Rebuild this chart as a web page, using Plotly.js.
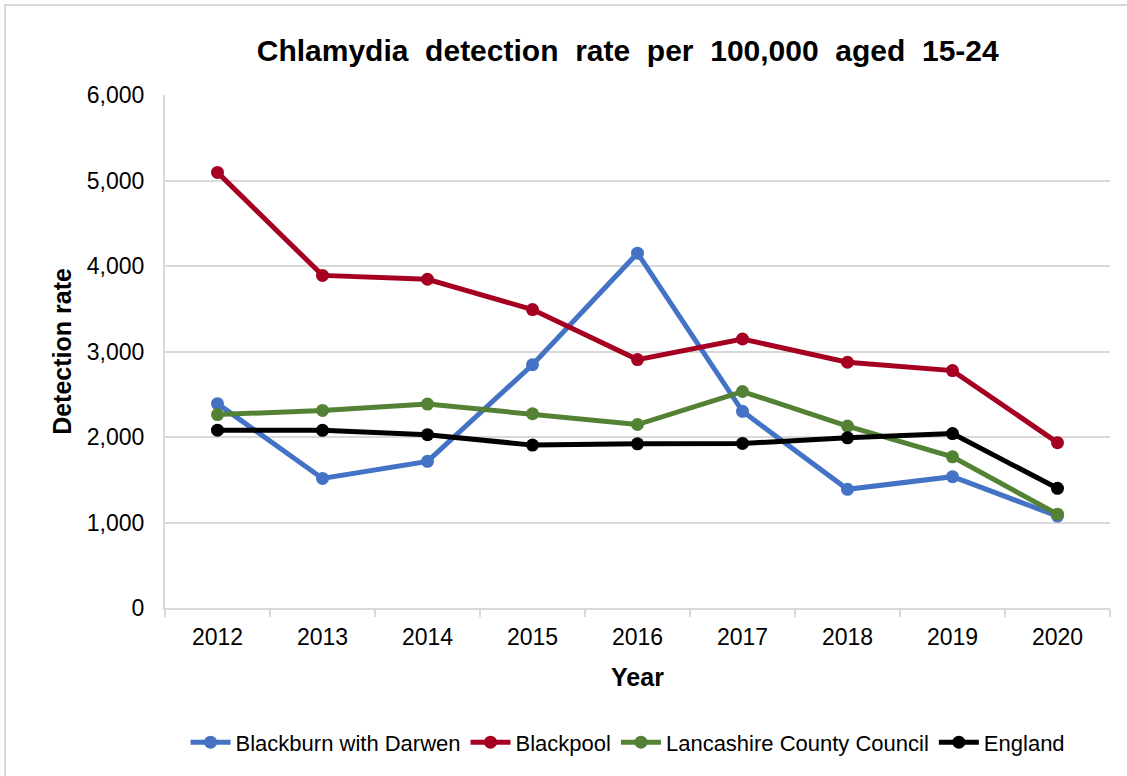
<!DOCTYPE html>
<html>
<head>
<meta charset="utf-8">
<script src="https://cdn.plot.ly/plotly-3.0.1.min.js"></script>
<style>
html,body{margin:0;padding:0;background:#fff;}
#wrap{position:relative;width:1127px;height:776px;overflow:hidden;}
#chart{width:1127px;height:776px;}
#frame{position:absolute;left:4px;top:4px;width:1140px;height:800px;border:2px solid #d9d9d9;pointer-events:none;}
</style>
</head>
<body>
<div id="wrap"><div id="chart"></div><div id="frame"></div></div>
<script>
const years = ['2012','2013','2014','2015','2016','2017','2018','2019','2020'];
const blackburn = [2390, 1515, 1715, 2845, 4150, 2300, 1388, 1536, 1075];
const blackpool = [5095, 3890, 3845, 3490, 2905, 3146, 2874, 2777, 1934];
const lancashire = [2262, 2311, 2385, 2272, 2146, 2532, 2128, 1768, 1097];
const england = [2080, 2078, 2027, 1905, 1920, 1925, 1990, 2040, 1400];

const names = ['Blackburn with Darwen','Blackpool','Lancashire County Council','England'];
const colors = ['#4472C4','#A50021','#548235','#000000'];
const series = [blackburn, blackpool, lancashire, england];

const traces = series.map((s,i)=>({
  x: years, y: s, name: names[i], type:'scatter', mode:'lines+markers',
  line:{color:colors[i], width:5},
  marker:{color:colors[i], size:13}
}));

const font = 'Liberation Sans, Arial, sans-serif';
const layout = {
  width:1127, height:776,
  margin:{l:165, r:17, t:95, b:166},
  paper_bgcolor:'#fff', plot_bgcolor:'#fff',
  font:{family:font, color:'#000', size:23},
  title:{text:'<b>Chlamydia  detection  rate  per  100,000  aged  15-24</b>', x:0.557, xanchor:'center', y:0.935, yanchor:'middle', font:{size:30, family:font, color:'#000'}},
  xaxis:{type:'category', range:[-0.5,8.5], tickson:'boundaries', ticks:'outside', ticklen:7, tickcolor:'#d9d9d9', tickwidth:2,
    showline:true, linecolor:'#d9d9d9', linewidth:2, showgrid:false, zeroline:false, ticklabelstandoff:7,
    tickfont:{size:23}, title:{text:'<b>Year</b>', font:{size:25}, standoff:20}},
  yaxis:{range:[0,6000], dtick:1000, tickformat:',d', showline:true, linecolor:'#d9d9d9', linewidth:2,
    gridcolor:'#d9d9d9', gridwidth:2, zeroline:false, ticks:'', ticklen:0, tickfont:{size:23}, ticklabelstandoff:14,
    title:{text:'<b>Detection rate</b>', font:{size:25}, standoff:8}},
  legend:{orientation:'h', x:0.49, xanchor:'center', y:-0.262, yanchor:'middle', font:{size:22}, itemwidth:40, tracegroupgap:0},
  showlegend:true
};
Plotly.newPlot('chart', traces, layout, {displayModeBar:false, staticPlot:true});
</script>
</body>
</html>
